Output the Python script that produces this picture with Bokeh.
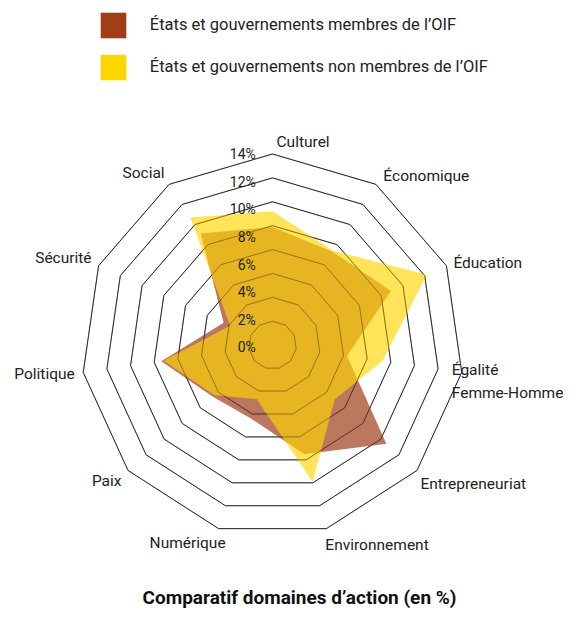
import numpy as np
from bokeh.plotting import figure
from bokeh.models import Range1d, Legend, LegendItem, Label
from bokeh.embed import file_html
from bokeh.resources import INLINE
from bokeh.core.properties import value

# ---------------- data ----------------
categories = ["Culturel", "Économique", "Éducation", "Égalité\nFemme-Homme",
              "Entrepreneuriat", "Environnement", "Numérique", "Paix",
              "Politique", "Sécurité", "Social"]
membres = [7.9, 7.3, 8.9, 4.3, 10.6, 7.5, 4.4, 4.6, 7.4, 2.5, 9.1]
non_membres = [9.2, 7.4, 12.2, 7.3, 4.9, 9.9, 2.7, 4.4, 7.2, 1.9, 10.7]
ring_values = [0, 2, 4, 6, 8, 10, 12, 14]
ring_labels = ["0%", "2%", "4%", "6%", "8%", "10%", "12%", "14%"]
series_names = ["États et gouvernements membres de l’OIF",
                "États et gouvernements non membres de l’OIF"]
chart_title = "Comparatif domaines d’action (en %)"

# ---------------- layout / style ----------------
W, H = 563, 609
CX, CY = 272.0, 344.7          # centre of the radar in figure pixels
S = 11.95                      # pixels per percentage point
R_MIN = -2.0                   # radial scale starts below 0 %
BROWN, YELLOW = "#9E3F19", "#FFD600"
FONT = "Roboto"
# label nudges in pixels (dx, dy downwards) from the outer vertex
label_nudge = [(4, -12), (7.5, -8), (7, -2.5), (-10, 9), (3.5, 14),
               (-1, 16.5), (7, 14.5), (-6.5, 11), (-8.5, 2), (-7, -7.5), (-4.5, -11)]

n = len(categories)
theta = np.arange(n) * 2 * np.pi / n
sin_t, cos_t = np.sin(theta), np.cos(theta)


def polar(vals):
    r = np.asarray(vals, dtype=float) - R_MIN
    return list(r * sin_t), list(r * cos_t)


p = figure(width=W, height=H, output_backend="svg", toolbar_location=None, tools="",
           x_range=Range1d(-CX / S, (W - CX) / S), y_range=Range1d(-(H - CY) / S, CY / S),
           x_axis_location=None, y_axis_location=None, min_border=0)
p.grid.visible = False
p.outline_line_color = None

# rings
ring_xs, ring_ys = [], []
for v in ring_values:
    xs, ys = polar([v] * n)
    ring_xs.append(xs + [xs[0]])
    ring_ys.append(ys + [ys[0]])
p.multi_line(ring_xs, ring_ys, line_color="#2b2b2b", line_width=1)

# series
mx, my = polar(membres)
p.patch(mx, my, fill_color=BROWN, fill_alpha=0.7, line_color=None)
nx, ny = polar(non_membres)
p.patch(nx, ny, fill_color=YELLOW, fill_alpha=0.65, line_color=None)

# rings faintly on top
p.multi_line(ring_xs, ring_ys, line_color="#2b2b2b", line_width=1, line_alpha=0.35)

# radial tick labels
tick_x = [-1.4] * len(ring_values)
tick_y = [v * 1.155 - 0.19 for v in ring_values]
p.text(x=tick_x, y=tick_y, text=ring_labels, text_align="right", text_baseline="middle",
       text_font=value(FONT), text_font_size="14px", text_color="#222222")

# category labels
outer = ring_values[-1] - R_MIN
lx = [outer * s + d[0] / S for s, d in zip(sin_t, label_nudge)]
ly = [outer * c - d[1] / S for c, d in zip(cos_t, label_nudge)]
align = ["left" if s > -1e-9 else "right" for s in sin_t]
p.text(x=lx, y=ly, text=categories, text_align=align, text_baseline="middle",
       text_font=value(FONT), text_font_size="15.5px", text_color="#222222",
       text_line_height=1.3)

# legend (swatches in full colour)
nan = np.array([np.nan])
dm = p.quad(left=nan, right=nan, top=nan, bottom=nan, fill_color=BROWN, line_color=None)
dn = p.quad(left=nan, right=nan, top=nan, bottom=nan, fill_color=YELLOW, line_color=None)
legend = Legend(items=[LegendItem(label=series_names[0], renderers=[dm]),
                       LegendItem(label=series_names[1], renderers=[dn])],
                location=(96.8, 526.2), glyph_width=32, glyph_height=32, spacing=10,
                label_standoff=21, padding=0, margin=0,
                border_line_color=None, background_fill_alpha=0,
                label_text_font=FONT, label_text_font_size="16.5px", label_text_color="#222222")
p.add_layout(legend)

# title
p.add_layout(Label(x=299, y=12, x_units="screen", y_units="screen", text=chart_title,
                   text_align="center", text_baseline="alphabetic", text_font=FONT,
                   text_font_style="bold", text_font_size="19px", text_color="#111111"))

open("out.html", "w").write(file_html(p, INLINE))
